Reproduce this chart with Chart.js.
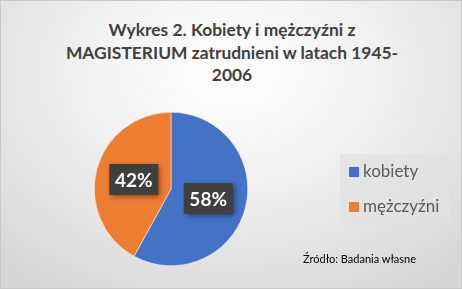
<!DOCTYPE html>
<html>
<head>
<meta charset="utf-8">
<script src="https://cdn.jsdelivr.net/npm/chart.js@4"></script>
<style>
  html, body { margin: 0; padding: 0; }
  body { width: 462px; height: 289px; overflow: hidden; font-family: Lato, 'Open Sans', sans-serif; }
  #frame {
    position: relative; width: 462px; height: 289px; box-sizing: border-box;
    border: 1px solid #c8c8c8;
    background: radial-gradient(ellipse 75% 90% at 50% 25%, #ffffff 0%, #f2f2f2 40%, #d6d6d6 100%);
  }
  #title {
    position: absolute; left: 0; top: 18px; width: 462px; text-align: center;
    font-weight: bold; font-size: 17.4px; line-height: 22.5px; color: #404040;
  }
  #chart { position: absolute; left: 0; top: 0; }
  #legend {
    position: absolute; left: 339px; top: 153px; width: 110px; height: 69px;
    background: rgba(225,225,225,0.7);
  }
  .legend-item { position: absolute; left: 9px; font-size: 17px; color: #595959; white-space: nowrap; }
  .legend-color { display: inline-block; width: 10px; height: 10px; margin-right: 4px; vertical-align: 0px; }
  #source { position: absolute; left: 302px; top: 251px; font-size: 11px; color: #000; }
</style>
</head>
<body>
<div id="frame">
  <div id="title">Wykres 2. Kobiety i mężczyźni z<br>MAGISTERIUM zatrudnieni w latach 1945-<br>2006</div>
  <canvas id="chart" width="462" height="289"></canvas>
  <div id="legend"></div>
  <div id="source">Źródło: Badania własne</div>
</div>
<script>
// --- Data ---
const labels = ['kobiety', 'mężczyźni'];
const values = [58, 42];
const colors = ['#4472C4', '#ED7D31'];

// Dark boxed percentage labels at the middle of each slice
const boxLabels = {
  id: 'boxLabels',
  afterDatasetsDraw(chart) {
    const ctx = chart.ctx;
    const meta = chart.getDatasetMeta(0);
    const total = values.reduce((a, b) => a + b, 0);
    meta.data.forEach((arc, i) => {
      const p = arc.tooltipPosition();
      const text = Math.round(values[i] / total * 100) + '%';
      const w = 49, h = 31;
      ctx.save();
      ctx.shadowColor = 'rgba(0,0,0,0.45)';
      ctx.shadowBlur = 5;
      ctx.shadowOffsetX = 2;
      ctx.shadowOffsetY = 2;
      ctx.fillStyle = '#3f3f3f';
      ctx.fillRect(p.x - w / 2, p.y - h / 2, w, h);
      ctx.restore();
      ctx.save();
      ctx.fillStyle = '#ffffff';
      ctx.font = 'bold 19px Lato, sans-serif';
      ctx.textAlign = 'center';
      ctx.textBaseline = 'middle';
      ctx.fillText(text, p.x, p.y + 1);
      ctx.restore();
    });
  }
};

new Chart(document.getElementById('chart'), {
  type: 'pie',
  data: {
    labels: labels,
    datasets: [{
      data: values,
      backgroundColor: colors,
      borderColor: '#ffffff',
      borderWidth: 0.5
    }]
  },
  options: {
    responsive: false,
    animation: false,
    layout: { padding: { left: 93, right: 215, top: 111, bottom: 24 } },
    plugins: {
      legend: { display: false },
      title: { display: false },
      tooltip: { enabled: false }
    }
  },
  plugins: [boxLabels]
});

// Custom legend
const legend = document.getElementById('legend');
labels.forEach((label, i) => {
  const item = document.createElement('div');
  item.className = 'legend-item';
  item.style.top = (i === 0 ? 6 : 41) + 'px';
  item.innerHTML = `<span class="legend-color" style="background:${colors[i]}"></span>${label}`;
  legend.appendChild(item);
});
</script>
</body>
</html>
